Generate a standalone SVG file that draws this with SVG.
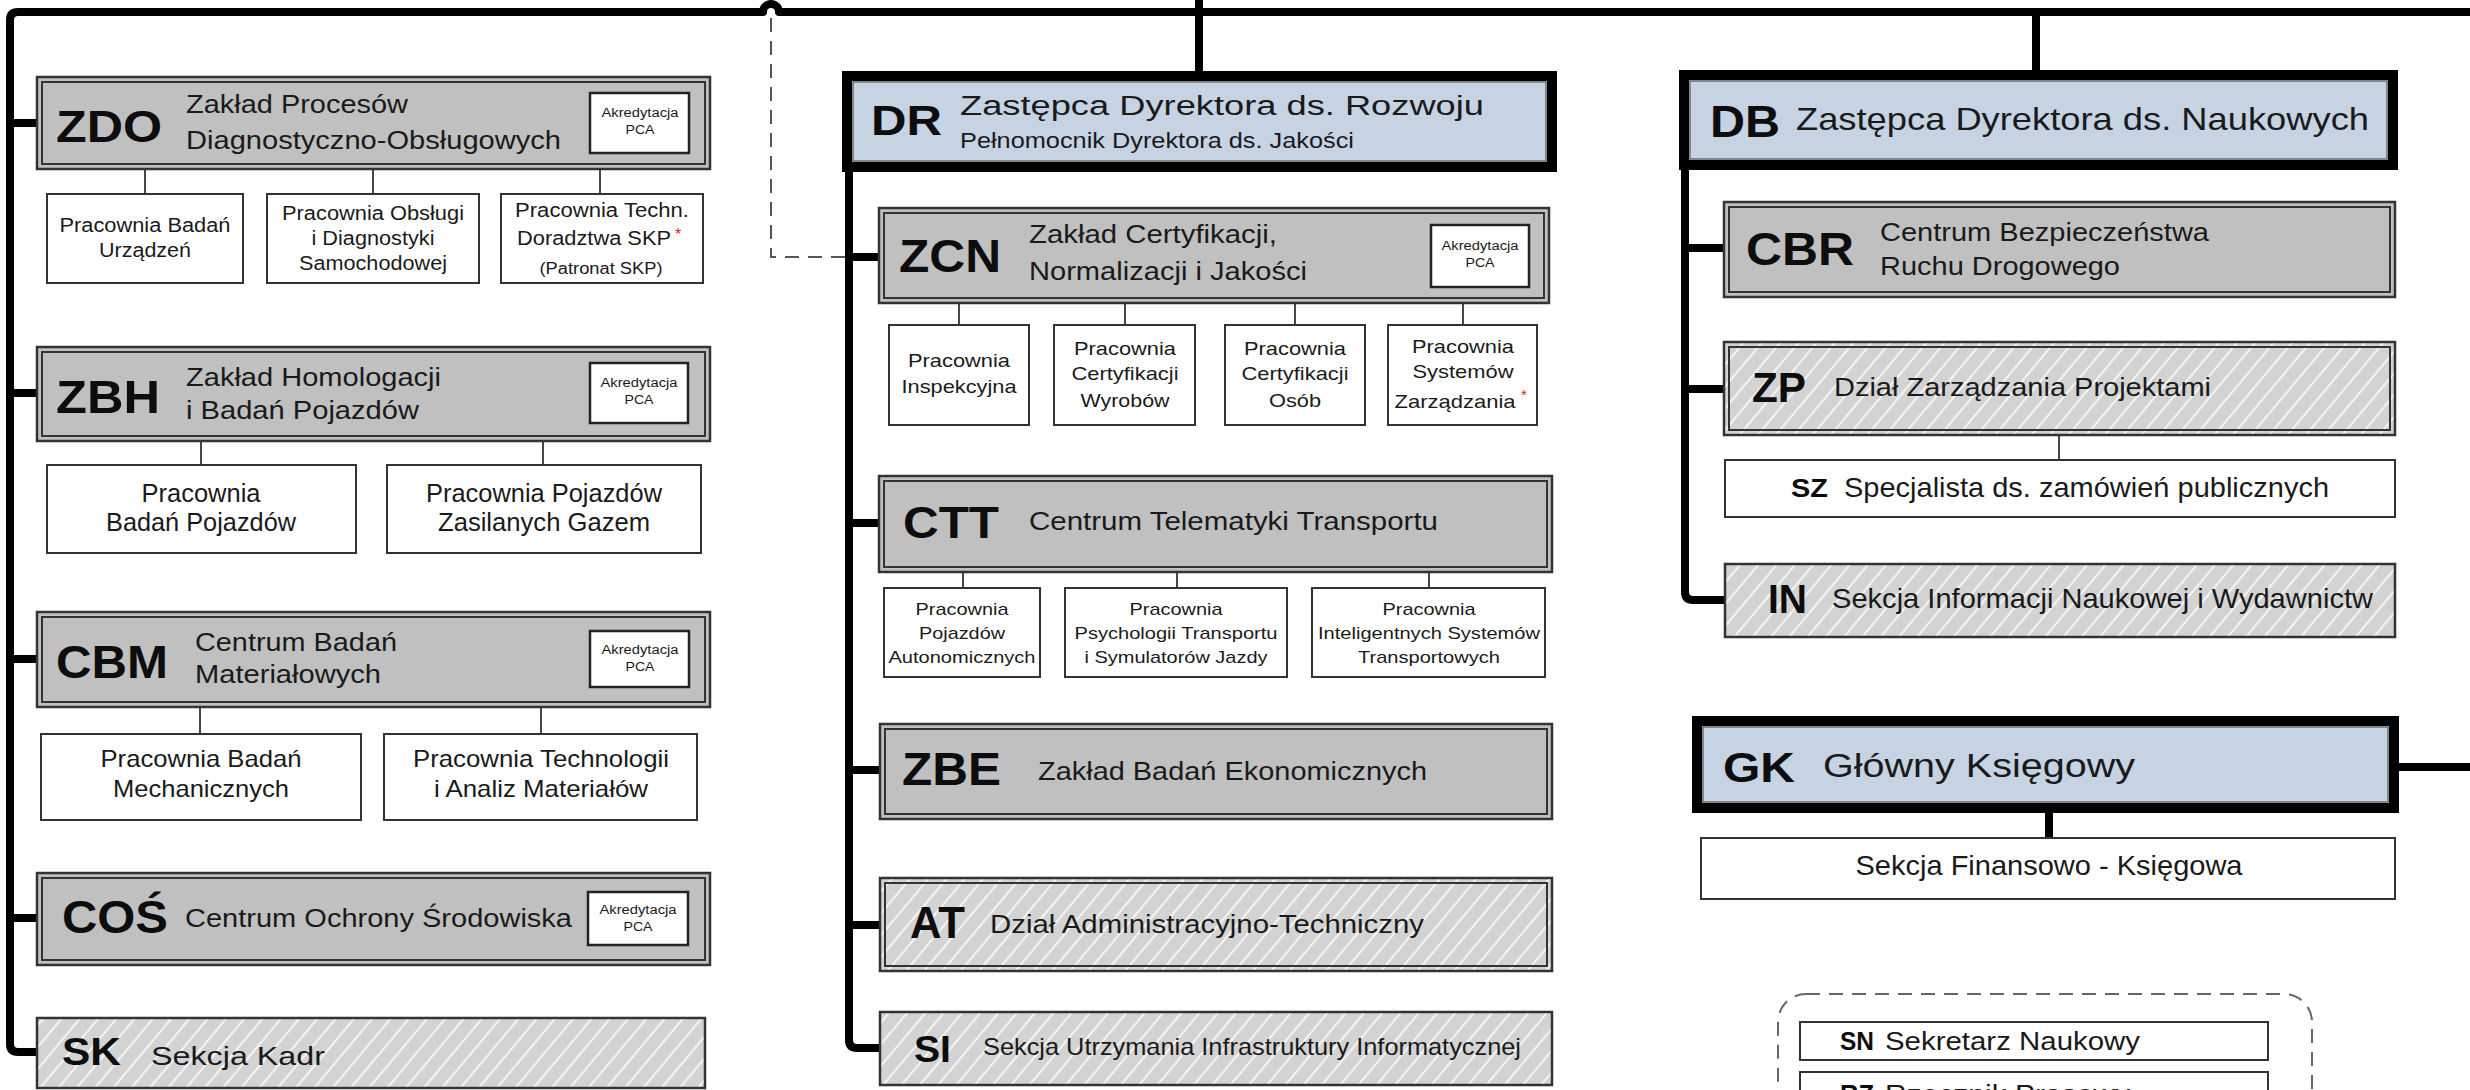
<svg xmlns="http://www.w3.org/2000/svg" width="2470" height="1090" viewBox="0 0 2470 1090">
<style>
text{font-family:"Liberation Sans",Arial,sans-serif;fill:#1a1a1a}
.ab{font-weight:bold;fill:#0d0d0d}
.c{text-anchor:middle}
.gray{fill:#c0c0c0;stroke:#333;stroke-width:2.5}
.in{fill:none;stroke:#333;stroke-width:2}
.hat{fill:url(#hatch);stroke:#333;stroke-width:2.5}
.blue{fill:#c6d3e3;stroke:#000;stroke-width:10}
.blin{fill:none;stroke:#555;stroke-width:1.2}
.wb{fill:#fff;stroke:#333;stroke-width:2}
.akr{fill:#fff;stroke:#222;stroke-width:2.5}
.thick{fill:none;stroke:#000;stroke-width:8;stroke-linecap:round;stroke-linejoin:round}
.thin{fill:none;stroke:#333;stroke-width:1.8}
.dash{fill:none;stroke:#555;stroke-width:2;stroke-dasharray:14 9}
.red{fill:#e02020}
</style>
<defs>
<pattern id="hatch" patternUnits="userSpaceOnUse" width="14" height="14" patternTransform="rotate(40)">
<rect width="14" height="14" fill="#d3d3d3"/>
<line x1="2" y1="0" x2="2" y2="14" stroke="#f4f4f4" stroke-width="2"/>
</pattern>
</defs>
<rect width="2470" height="1090" fill="#fff"/>

<g id="connectors">
<path class="thick" d="M37,1052 H18 Q10,1052 10,1044 V20 Q10,12 18,12 H763 A8,8 0 0 1 779,12 H2470"/>
<path class="thick" d="M10,123 H37 M10,393 H37 M10,659 H37 M10,918 H37"/>
<path class="thick" d="M1199,0 V71"/>
<path class="thick" d="M849,172 V1040 Q849,1048 857,1048 H880 M849,257 H879 M849,523 H879 M849,770 H880 M849,925 H880"/>
<path class="thick" d="M2036,12 V70"/>
<path class="thick" d="M1685,170 V592 Q1685,600 1693,600 H1725 M1685,248 H1724 M1685,389 H1724"/>
<path class="thick" d="M2399,767 H2470 M2049,813 V838"/>
<path class="dash" d="M771,18 V257 H845"/>
<path class="thin" d="M145,169 V194 M373,169 V194 M600,169 V194 M201,441 V465 M543,441 V465 M200,707 V734 M541,707 V734"/>
<path class="thin" d="M959,303 V325 M1125,303 V325 M1295,303 V325 M1463,303 V325 M963,572 V588 M1177,572 V588 M1429,572 V588"/>
<path class="thin" d="M2059,435 V460"/>
</g>

<g id="ZDO">
<rect class="gray" x="37" y="77" width="673" height="92"/><rect class="in" x="42" y="82" width="663" height="82"/>
<text class="ab" x="56" y="142" font-size="45" textLength="106" lengthAdjust="spacingAndGlyphs">ZDO</text>
<text x="186" y="113" font-size="25" textLength="222" lengthAdjust="spacingAndGlyphs">Zakład Procesów</text>
<text x="186" y="149" font-size="25" textLength="375" lengthAdjust="spacingAndGlyphs">Diagnostyczno-Obsługowych</text>
<rect class="akr" x="590" y="93" width="99" height="60"/>
<text class="c" x="640" y="117" font-size="12" textLength="77" lengthAdjust="spacingAndGlyphs">Akredytacja</text>
<text class="c" x="640" y="134" font-size="12" textLength="29" lengthAdjust="spacingAndGlyphs">PCA</text>
</g>
<g id="ZDO-1">
<rect class="wb" x="47" y="194" width="196" height="89"/>
<text class="c" x="145" y="232" font-size="20" textLength="171" lengthAdjust="spacingAndGlyphs">Pracownia Badań</text>
<text class="c" x="145" y="257" font-size="20" textLength="92" lengthAdjust="spacingAndGlyphs">Urządzeń</text>
</g>
<g id="ZDO-2">
<rect class="wb" x="267" y="194" width="212" height="89"/>
<text class="c" x="373" y="220" font-size="20" textLength="182" lengthAdjust="spacingAndGlyphs">Pracownia Obsługi</text>
<text class="c" x="373" y="245" font-size="20" textLength="123" lengthAdjust="spacingAndGlyphs">i Diagnostyki</text>
<text class="c" x="373" y="270" font-size="20" textLength="148" lengthAdjust="spacingAndGlyphs">Samochodowej</text>
</g>
<g id="ZDO-3">
<rect class="wb" x="501" y="194" width="202" height="89"/>
<text class="c" x="602" y="217" font-size="20" textLength="174" lengthAdjust="spacingAndGlyphs">Pracownia Techn.</text>
<text class="c" x="594" y="245" font-size="20" textLength="154" lengthAdjust="spacingAndGlyphs">Doradztwa SKP</text>
<text class="red" x="675" y="240" font-size="16">*</text>
<text class="c" x="601" y="274" font-size="16" textLength="123" lengthAdjust="spacingAndGlyphs">(Patronat SKP)</text>
</g>

<g id="ZBH">
<rect class="gray" x="37" y="347" width="673" height="94"/><rect class="in" x="42" y="352" width="663" height="84"/>
<text class="ab" x="56" y="413" font-size="46" textLength="104" lengthAdjust="spacingAndGlyphs">ZBH</text>
<text x="186" y="386" font-size="25" textLength="255" lengthAdjust="spacingAndGlyphs">Zakład Homologacji</text>
<text x="186" y="419" font-size="25" textLength="233" lengthAdjust="spacingAndGlyphs">i Badań Pojazdów</text>
<rect class="akr" x="590" y="363" width="98" height="60"/>
<text class="c" x="639" y="387" font-size="12" textLength="77" lengthAdjust="spacingAndGlyphs">Akredytacja</text>
<text class="c" x="639" y="404" font-size="12" textLength="29" lengthAdjust="spacingAndGlyphs">PCA</text>
</g>
<g id="ZBH-1">
<rect class="wb" x="47" y="465" width="309" height="88"/>
<text class="c" x="201" y="502" font-size="25" textLength="119" lengthAdjust="spacingAndGlyphs">Pracownia</text>
<text class="c" x="201" y="531" font-size="25" textLength="190" lengthAdjust="spacingAndGlyphs">Badań Pojazdów</text>
</g>
<g id="ZBH-2">
<rect class="wb" x="387" y="465" width="314" height="88"/>
<text class="c" x="544" y="502" font-size="25" textLength="236" lengthAdjust="spacingAndGlyphs">Pracownia Pojazdów</text>
<text class="c" x="544" y="531" font-size="25" textLength="212" lengthAdjust="spacingAndGlyphs">Zasilanych Gazem</text>
</g>

<g id="CBM">
<rect class="gray" x="37" y="612" width="673" height="95"/><rect class="in" x="42" y="617" width="663" height="85"/>
<text class="ab" x="56" y="678" font-size="46" textLength="112" lengthAdjust="spacingAndGlyphs">CBM</text>
<text x="195" y="651" font-size="25" textLength="202" lengthAdjust="spacingAndGlyphs">Centrum Badań</text>
<text x="195" y="683" font-size="25" textLength="186" lengthAdjust="spacingAndGlyphs">Materiałowych</text>
<rect class="akr" x="590" y="631" width="99" height="56"/>
<text class="c" x="640" y="654" font-size="12" textLength="77" lengthAdjust="spacingAndGlyphs">Akredytacja</text>
<text class="c" x="640" y="671" font-size="12" textLength="29" lengthAdjust="spacingAndGlyphs">PCA</text>
</g>
<g id="CBM-1">
<rect class="wb" x="41" y="734" width="320" height="86"/>
<text class="c" x="201" y="767" font-size="24" textLength="201" lengthAdjust="spacingAndGlyphs">Pracownia Badań</text>
<text class="c" x="201" y="797" font-size="24" textLength="176" lengthAdjust="spacingAndGlyphs">Mechanicznych</text>
</g>
<g id="CBM-2">
<rect class="wb" x="384" y="734" width="313" height="86"/>
<text class="c" x="541" y="767" font-size="24" textLength="256" lengthAdjust="spacingAndGlyphs">Pracownia Technologii</text>
<text class="c" x="541" y="797" font-size="24" textLength="214" lengthAdjust="spacingAndGlyphs">i Analiz Materiałów</text>
</g>

<g id="COS">
<rect class="gray" x="37" y="873" width="673" height="92"/><rect class="in" x="42" y="878" width="663" height="82"/>
<text class="ab" x="62" y="933" font-size="46" textLength="106" lengthAdjust="spacingAndGlyphs">COŚ</text>
<text x="185" y="927" font-size="25" textLength="387" lengthAdjust="spacingAndGlyphs">Centrum Ochrony Środowiska</text>
<rect class="akr" x="588" y="892" width="100" height="53"/>
<text class="c" x="638" y="914" font-size="12" textLength="77" lengthAdjust="spacingAndGlyphs">Akredytacja</text>
<text class="c" x="638" y="931" font-size="12" textLength="29" lengthAdjust="spacingAndGlyphs">PCA</text>
</g>
<g id="SK">
<rect class="hat" x="37" y="1018" width="668" height="70"/>
<text class="ab" x="62" y="1065" font-size="38" textLength="59" lengthAdjust="spacingAndGlyphs">SK</text>
<text x="151" y="1065" font-size="26" textLength="174" lengthAdjust="spacingAndGlyphs">Sekcja Kadr</text>
</g>

<g id="DR">
<rect class="blue" x="847" y="76" width="705" height="91"/><rect class="blin" x="853" y="82" width="693" height="79"/>
<text class="ab" x="871" y="135" font-size="43" textLength="71" lengthAdjust="spacingAndGlyphs">DR</text>
<text x="960" y="115" font-size="27" textLength="524" lengthAdjust="spacingAndGlyphs">Zastępca Dyrektora ds. Rozwoju</text>
<text x="960" y="148" font-size="22" textLength="394" lengthAdjust="spacingAndGlyphs">Pełnomocnik Dyrektora ds. Jakości</text>
</g>
<g id="ZCN">
<rect class="gray" x="879" y="208" width="670" height="95"/><rect class="in" x="884" y="213" width="660" height="85"/>
<text class="ab" x="899" y="272" font-size="46" textLength="102" lengthAdjust="spacingAndGlyphs">ZCN</text>
<text x="1029" y="243" font-size="25" textLength="248" lengthAdjust="spacingAndGlyphs">Zakład Certyfikacji,</text>
<text x="1029" y="280" font-size="25" textLength="278" lengthAdjust="spacingAndGlyphs">Normalizacji i Jakości</text>
<rect class="akr" x="1431" y="225" width="98" height="62"/>
<text class="c" x="1480" y="250" font-size="12" textLength="77" lengthAdjust="spacingAndGlyphs">Akredytacja</text>
<text class="c" x="1480" y="267" font-size="12" textLength="29" lengthAdjust="spacingAndGlyphs">PCA</text>
</g>
<g id="ZCN-1">
<rect class="wb" x="889" y="325" width="140" height="100"/>
<text class="c" x="959" y="367" font-size="19" textLength="102" lengthAdjust="spacingAndGlyphs">Pracownia</text>
<text class="c" x="959" y="393" font-size="19" textLength="115" lengthAdjust="spacingAndGlyphs">Inspekcyjna</text>
</g>
<g id="ZCN-2">
<rect class="wb" x="1054" y="325" width="141" height="100"/>
<text class="c" x="1125" y="355" font-size="19" textLength="102" lengthAdjust="spacingAndGlyphs">Pracownia</text>
<text class="c" x="1125" y="380" font-size="19" textLength="107" lengthAdjust="spacingAndGlyphs">Certyfikacji</text>
<text class="c" x="1125" y="407" font-size="19" textLength="89" lengthAdjust="spacingAndGlyphs">Wyrobów</text>
</g>
<g id="ZCN-3">
<rect class="wb" x="1225" y="325" width="140" height="100"/>
<text class="c" x="1295" y="355" font-size="19" textLength="102" lengthAdjust="spacingAndGlyphs">Pracownia</text>
<text class="c" x="1295" y="380" font-size="19" textLength="107" lengthAdjust="spacingAndGlyphs">Certyfikacji</text>
<text class="c" x="1295" y="407" font-size="19" textLength="52" lengthAdjust="spacingAndGlyphs">Osób</text>
</g>
<g id="ZCN-4">
<rect class="wb" x="1388" y="325" width="149" height="100"/>
<text class="c" x="1463" y="353" font-size="19" textLength="102" lengthAdjust="spacingAndGlyphs">Pracownia</text>
<text class="c" x="1463" y="378" font-size="19" textLength="101" lengthAdjust="spacingAndGlyphs">Systemów</text>
<text class="c" x="1455" y="408" font-size="19" textLength="121" lengthAdjust="spacingAndGlyphs">Zarządzania</text>
<text class="red" x="1521" y="400" font-size="15">*</text>
</g>

<g id="CTT">
<rect class="gray" x="879" y="476" width="673" height="96"/><rect class="in" x="884" y="481" width="663" height="86"/>
<text class="ab" x="903" y="538" font-size="45" textLength="96" lengthAdjust="spacingAndGlyphs">CTT</text>
<text x="1029" y="530" font-size="26" textLength="409" lengthAdjust="spacingAndGlyphs">Centrum Telematyki Transportu</text>
</g>
<g id="CTT-1">
<rect class="wb" x="884" y="588" width="156" height="89"/>
<text class="c" x="962" y="615" font-size="17" textLength="93" lengthAdjust="spacingAndGlyphs">Pracownia</text>
<text class="c" x="962" y="639" font-size="17" textLength="86" lengthAdjust="spacingAndGlyphs">Pojazdów</text>
<text class="c" x="962" y="663" font-size="17" textLength="147" lengthAdjust="spacingAndGlyphs">Autonomicznych</text>
</g>
<g id="CTT-2">
<rect class="wb" x="1065" y="588" width="222" height="89"/>
<text class="c" x="1176" y="615" font-size="17" textLength="93" lengthAdjust="spacingAndGlyphs">Pracownia</text>
<text class="c" x="1176" y="639" font-size="17" textLength="203" lengthAdjust="spacingAndGlyphs">Psychologii Transportu</text>
<text class="c" x="1176" y="663" font-size="17" textLength="183" lengthAdjust="spacingAndGlyphs">i Symulatorów Jazdy</text>
</g>
<g id="CTT-3">
<rect class="wb" x="1312" y="588" width="233" height="89"/>
<text class="c" x="1429" y="615" font-size="17" textLength="93" lengthAdjust="spacingAndGlyphs">Pracownia</text>
<text class="c" x="1429" y="639" font-size="17" textLength="222" lengthAdjust="spacingAndGlyphs">Inteligentnych Systemów</text>
<text class="c" x="1429" y="663" font-size="17" textLength="142" lengthAdjust="spacingAndGlyphs">Transportowych</text>
</g>

<g id="ZBE">
<rect class="gray" x="880" y="724" width="672" height="95"/><rect class="in" x="885" y="729" width="662" height="85"/>
<text class="ab" x="902" y="785" font-size="46" textLength="99" lengthAdjust="spacingAndGlyphs">ZBE</text>
<text x="1038" y="780" font-size="26" textLength="389" lengthAdjust="spacingAndGlyphs">Zakład Badań Ekonomicznych</text>
</g>
<g id="AT">
<rect class="hat" x="880" y="878" width="672" height="93"/><rect class="in" x="885" y="883" width="662" height="83"/>
<text class="ab" x="910" y="938" font-size="45" textLength="55" lengthAdjust="spacingAndGlyphs">AT</text>
<text x="990" y="933" font-size="26" textLength="434" lengthAdjust="spacingAndGlyphs">Dział Administracyjno-Techniczny</text>
</g>
<g id="SI">
<rect class="hat" x="880" y="1012" width="672" height="73"/>
<text class="ab" x="914" y="1062" font-size="37" textLength="37" lengthAdjust="spacingAndGlyphs">SI</text>
<text x="983" y="1055" font-size="24" textLength="538" lengthAdjust="spacingAndGlyphs">Sekcja Utrzymania Infrastruktury Informatycznej</text>
</g>

<g id="DB">
<rect class="blue" x="1684" y="75" width="709" height="90"/><rect class="blin" x="1690" y="81" width="697" height="78"/>
<text class="ab" x="1710" y="137" font-size="45" textLength="70" lengthAdjust="spacingAndGlyphs">DB</text>
<text x="1796" y="130" font-size="32" textLength="573" lengthAdjust="spacingAndGlyphs">Zastępca Dyrektora ds. Naukowych</text>
</g>
<g id="CBR">
<rect class="gray" x="1724" y="202" width="671" height="95"/><rect class="in" x="1729" y="207" width="661" height="85"/>
<text class="ab" x="1746" y="265" font-size="46" textLength="108" lengthAdjust="spacingAndGlyphs">CBR</text>
<text x="1880" y="241" font-size="25" textLength="329" lengthAdjust="spacingAndGlyphs">Centrum Bezpieczeństwa</text>
<text x="1880" y="275" font-size="25" textLength="240" lengthAdjust="spacingAndGlyphs">Ruchu Drogowego</text>
</g>
<g id="ZP">
<rect class="hat" x="1724" y="342" width="671" height="93"/><rect class="in" x="1729" y="347" width="661" height="83"/>
<text class="ab" x="1752" y="402" font-size="43" textLength="54" lengthAdjust="spacingAndGlyphs">ZP</text>
<text x="1834" y="396" font-size="26" textLength="377" lengthAdjust="spacingAndGlyphs">Dział Zarządzania Projektami</text>
</g>
<g id="SZ">
<rect class="wb" x="1725" y="460" width="670" height="57"/>
<text class="ab" x="1791" y="497" font-size="26" textLength="37" lengthAdjust="spacingAndGlyphs">SZ</text>
<text x="1844" y="497" font-size="28" textLength="485" lengthAdjust="spacingAndGlyphs">Specjalista ds. zamówień publicznych</text>
</g>
<g id="IN">
<rect class="hat" x="1725" y="564" width="670" height="73"/>
<text class="ab" x="1768" y="613" font-size="41" textLength="39" lengthAdjust="spacingAndGlyphs">IN</text>
<text x="1832" y="608" font-size="28" textLength="541" lengthAdjust="spacingAndGlyphs">Sekcja Informacji Naukowej i Wydawnictw</text>
</g>
<g id="GK">
<rect class="blue" x="1697" y="721" width="697" height="87"/><rect class="blin" x="1703" y="727" width="685" height="75"/>
<text class="ab" x="1723" y="782" font-size="43" textLength="72" lengthAdjust="spacingAndGlyphs">GK</text>
<text x="1823" y="777" font-size="33" textLength="312" lengthAdjust="spacingAndGlyphs">Główny Księgowy</text>
</g>
<g id="SFK">
<rect class="wb" x="1701" y="838" width="694" height="61"/>
<text class="c" x="2049" y="875" font-size="28" textLength="387" lengthAdjust="spacingAndGlyphs">Sekcja Finansowo - Księgowa</text>
</g>
<g id="group-dashed">
<rect x="1778" y="994" width="534" height="140" rx="28" ry="28" fill="none" stroke="#666" stroke-width="2" stroke-dasharray="14 9"/>
</g>
<g id="SN">
<rect class="wb" x="1800" y="1022" width="468" height="38"/>
<text class="ab" x="1840" y="1050" font-size="25" textLength="34" lengthAdjust="spacingAndGlyphs">SN</text>
<text x="1885" y="1050" font-size="26" textLength="255" lengthAdjust="spacingAndGlyphs">Sekretarz Naukowy</text>
</g>
<g id="RZ">
<rect class="wb" x="1800" y="1072" width="468" height="40"/>
<text class="ab" x="1840" y="1103" font-size="25" textLength="34" lengthAdjust="spacingAndGlyphs">RZ</text>
<text x="1885" y="1103" font-size="26" textLength="245" lengthAdjust="spacingAndGlyphs">Rzecznik Prasowy</text>
</g>
</svg>
